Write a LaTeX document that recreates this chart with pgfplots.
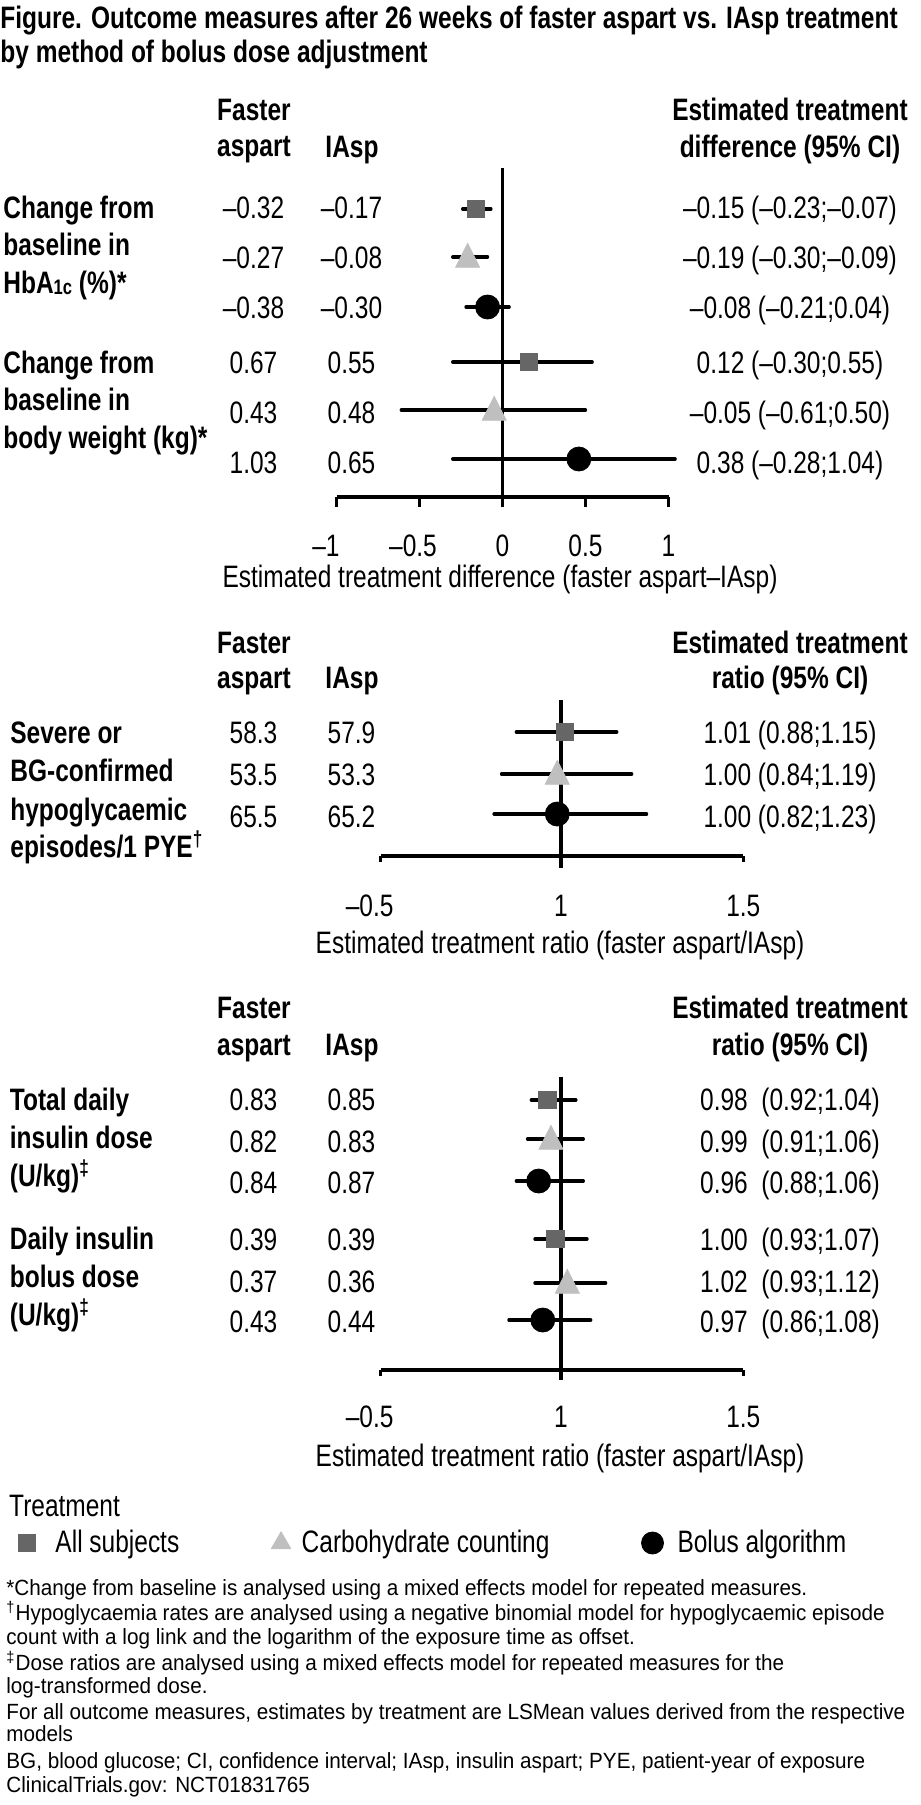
\documentclass[border=0pt]{standalone}
\usepackage{fontspec}
\setmainfont{Liberation Sans}[FakeStretch=0.79]
\usepackage{graphicx}
\usepackage{pgfplots}
\usepackage{pgfplotstable}
\pgfplotsset{compat=1.18}
\definecolor{sqgray}{HTML}{666666}
\definecolor{trigray}{HTML}{BFBFBF}
\newcommand{\fs}{\fontsize{15.5pt}{18.6pt}\selectfont}
\newcommand{\fn}{\fontsize{11pt}{12.3pt}\selectfont}
\newcommand{\fx}[1]{\scalebox{1.19}[1]{#1}}
\newcommand{\tickleft}[2]{\makebox[0pt]{#2\kern#1}}

% ---- data: y = row position, e = estimate, lo/hi = 95% CI ----
\pgfplotstableread{
y e lo hi
-209 -0.16 -0.24 -0.07
-362 0.16 -0.30 0.54
}\topAll
\pgfplotstableread{
y e lo hi
-257 -0.21 -0.30 -0.09
-410 -0.05 -0.61 0.50
}\topCarb
\pgfplotstableread{
y e lo hi
-307 -0.09 -0.22 0.04
-459 0.46 -0.30 1.04
}\topBolus
\pgfplotstableread{
y e lo hi
-732 1.01 0.88 1.15
}\midAll
\pgfplotstableread{
y e lo hi
-774 0.99 0.84 1.19
}\midCarb
\pgfplotstableread{
y e lo hi
-814 0.99 0.82 1.23
}\midBolus
\pgfplotstableread{
y e lo hi
-1100 0.963 0.92 1.04
-1239 0.985 0.93 1.07
}\botAll
\pgfplotstableread{
y e lo hi
-1139 0.973 0.91 1.06
-1283 1.017 0.93 1.12
}\botCarb
\pgfplotstableread{
y e lo hi
-1181 0.94 0.88 1.06
-1320 0.951 0.86 1.08
}\botBolus

\pgfplotsset{
  panel/.style={scale only axis, anchor=south west,
    axis x line=bottom, axis y line=none,
    x axis line style={-, line width=1.6pt, black},
    clip=false, xtick align=outside,
    tick style={line width=1.6pt, black},
    xticklabel style={font=\fs, anchor=base},
    xlabel style={font=\fs, at={(axis description cs:0.5,0)}, anchor=base},
    minor tick num=0},
  ci/.style={forget plot, draw=none, mark=none,
    error bars/.cd, x dir=both, x explicit, error mark=none,
    error bar style={draw=black, solid, line width=1.65pt, line cap=round}},
  sq/.style={only marks, mark=square*, mark size=4.4pt, color=sqgray,
    legend image code/.code={\draw[##1] plot coordinates {(0pt,0pt)};},
    legend image post style={mark size=4.3pt}},
  tri/.style={only marks, mark=triangle*, mark size=6.93pt, color=trigray,
    mark options={yscale=1.15, yshift=-1pt},
    legend image code/.code={\draw[##1] plot coordinates {(0pt,0pt)};},
    legend image post style={mark size=5.6pt, mark options={yscale=1}}},
  dot/.style={only marks, mark=*, mark size=6pt, color=black,
    legend image code/.code={\draw[##1] plot coordinates {(0pt,0pt)};},
    legend image post style={mark size=5.5pt}},
}
\newcommand{\ciplot}[1]{\addplot[ci] table[x=e, y=y,
   x error plus expr=\thisrow{hi}-\thisrow{e},
   x error minus expr=\thisrow{e}-\thisrow{lo}] {#1};}

\begin{document}
\begin{tikzpicture}[
  bl/.style={font=\fs\bfseries, anchor=base west, inner sep=0pt},
  bc/.style={font=\fs\bfseries, anchor=base, inner sep=0pt},
  rc/.style={font=\fs, anchor=base, inner sep=0pt},
  rl/.style={font=\fs, anchor=base west, inner sep=0pt},
  fl/.style={font=\fn, anchor=base west, inner sep=0pt}]

% ---------------- panel 1 ----------------
\begin{axis}[panel, at={(168.25pt,-248.5pt)}, width=166pt, height=164.5pt,
  xmin=-1, xmax=1, ymin=-497, ymax=-168,
  xtick={-1,-0.5,0,0.5,1},
  xticklabels={\tickleft{10.5pt}{–1},\tickleft{6.5pt}{–0.5},0,0.5,1},
  major tick length=5pt,
  xticklabel style={yshift=-24.85pt},
  xlabel={Estimated treatment difference (faster aspart–IAsp)},
  xlabel style={yshift=-45pt, xshift=-1.25pt}]
\draw[line width=1.6pt] (axis cs:0,-168) -- (axis cs:0,-507);
\ciplot{\topAll}
\ciplot{\topCarb}
\ciplot{\topBolus}
\addplot[sq] table[x=e, y=y] {\topAll};
\addplot[tri] table[x=e, y=y] {\topCarb};
\addplot[dot] table[x=e, y=y] {\topBolus};
\end{axis}

% ---------------- panel 2 ----------------
\begin{axis}[panel, at={(190.35pt,-428pt)}, width=181.3pt, height=78pt,
  xmin=0.51532, xmax=1.49005, ymin=-856, ymax=-700,
  xtick={0.51532,1,1.49005}, xticklabels={\tickleft{11pt}{–0.5},1,1.5},
  major tick length=3pt,
  xticklabel style={yshift=-27pt},
  xlabel={Estimated treatment ratio (faster aspart/IAsp)},
  xlabel style={yshift=-48.5pt, xshift=-1pt}]
\draw[line width=1.6pt] (axis cs:1,-700) -- (axis cs:1,-868);
\ciplot{\midAll}
\ciplot{\midCarb}
\ciplot{\midBolus}
\addplot[sq] table[x=e, y=y] {\midAll};
\addplot[tri] table[x=e, y=y] {\midCarb};
\addplot[dot] table[x=e, y=y] {\midBolus};
\end{axis}

% ---------------- panel 3 ----------------
\begin{axis}[panel, at={(190.35pt,-685pt)}, width=181.3pt, height=146.5pt,
  xmin=0.51532, xmax=1.49005, ymin=-1370, ymax=-1077,
  xtick={0.51532,1,1.49005}, xticklabels={\tickleft{11pt}{–0.5},1,1.5},
  major tick length=3pt,
  xticklabel style={yshift=-25.85pt},
  xlabel={Estimated treatment ratio (faster aspart/IAsp)},
  xlabel style={yshift=-48.3pt, xshift=-1pt},
  legend columns=3,
  legend style={draw=none, fill=none, inner sep=0pt, outer sep=0pt,
    font=\fs, nodes={inner sep=0pt},
    at={(axis description cs:-0.99945,-0.5904)}, anchor=west,
    /tikz/every odd column/.append style={column sep=5.5pt},
    /tikz/every even column/.append style={column sep=46pt}}]
\draw[line width=1.6pt] (axis cs:1,-1077) -- (axis cs:1,-1380);
\ciplot{\botAll}
\ciplot{\botCarb}
\ciplot{\botBolus}
\addplot[sq] table[x=e, y=y] {\botAll};
\addlegendentry{\hspace{4.5pt}All subjects\hspace{-1pt}}
\addplot[tri] table[x=e, y=y] {\botCarb};
\addlegendentry{Carbohydrate counting\hspace{5pt}}
\addplot[dot] table[x=e, y=y] {\botBolus};
\addlegendentry{\hspace{1.5pt}Bolus algorithm}
\end{axis}

\begin{scope}[x=0.5pt, y=0.5pt]
% ---------------- title ----------------
\node[bl] at (0,-28.3) {Figure. Outcome measures after 26 weeks of faster aspart vs. IAsp treatment};
\node[bl] at (0,-62.7) {by method of bolus dose adjustment};

% ---------------- panel 1 texts ----------------
\node[bc] at (254,-120) {Faster};
\node[bc] at (254,-156.7) {aspart};
\node[bc] at (352,-157) {IAsp};
\node[bc] at (790,-120) {Estimated treatment};
\node[bc] at (790,-157) {difference (95\% CI)};

\node[bl] at (3,-218.3) {Change from};
\node[bl] at (3,-255.8) {baseline in};
\node[bl] at (3,-293.3) {HbA\raisebox{-0.5pt}{\fontsize{10.5pt}{10pt}\selectfont 1c} (\%)*};
\node[bl] at (3,-373.3) {Change from};
\node[bl] at (3,-410.8) {baseline in};
\node[bl] at (3,-448.3) {body weight (kg)*};

\foreach \y/\a/\b/\c in {218.3/–0.32/–0.17/–0.15 (–0.23;–0.07),
                         268.3/–0.27/–0.08/–0.19 (–0.30;–0.09),
                         318.3/–0.38/–0.30/–0.08 (–0.21;0.04),
                         373.3/0.67/0.55/0.12 (–0.30;0.55),
                         423.3/0.43/0.48/–0.05 (–0.61;0.50),
                         473.3/1.03/0.65/0.38 (–0.28;1.04)}{
  \node[rc] at (253.5,-\y) {\a};
  \node[rc] at (351.5,-\y) {\b};
  \node[rc] at (790,-\y) {\c};
}

% ---------------- panel 2 texts ----------------
\node[bc] at (254,-653) {Faster};
\node[bc] at (254,-688) {aspart};
\node[bc] at (352,-688) {IAsp};
\node[bc] at (790,-653) {Estimated treatment};
\node[bc] at (790,-688) {ratio (95\% CI)};

\node[bl] at (10,-743.3) {Severe or};
\node[bl] at (10,-781.7) {BG-confirmed};
\node[bl] at (10,-820) {hypoglycaemic};
\node[bl] at (10,-857) {episodes/1 PYE\textsuperscript{†}};

\foreach \y/\a/\b/\c in {743/58.3/57.9/1.01 (0.88;1.15),
                         785/53.5/53.3/1.00 (0.84;1.19),
                         827/65.5/65.2/1.00 (0.82;1.23)}{
  \node[rc] at (253.5,-\y) {\a};
  \node[rc] at (351.5,-\y) {\b};
  \node[rc] at (790,-\y) {\c};
}

% ---------------- panel 3 texts ----------------
\node[bc] at (254,-1018) {Faster};
\node[bc] at (254,-1055) {aspart};
\node[bc] at (352,-1055) {IAsp};
\node[bc] at (790,-1018) {Estimated treatment};
\node[bc] at (790,-1055) {ratio (95\% CI)};

\node[bl] at (9.5,-1110) {Total daily};
\node[bl] at (9.5,-1148) {insulin dose};
\node[bl] at (9.5,-1186) {(U/kg)\textsuperscript{‡}};
\node[bl] at (9.5,-1249) {Daily insulin};
\node[bl] at (9.5,-1287) {bolus dose};
\node[bl] at (9.5,-1325) {(U/kg)\textsuperscript{‡}};

\foreach \y/\a/\b/\c in {1110/0.83/0.85/0.98\ \ (0.92;1.04),
                         1152/0.82/0.83/0.99\ \ (0.91;1.06),
                         1193/0.84/0.87/0.96\ \ (0.88;1.06),
                         1250/0.39/0.39/1.00\ \ (0.93;1.07),
                         1292/0.37/0.36/1.02\ \ (0.93;1.12),
                         1332/0.43/0.44/0.97\ \ (0.86;1.08)}{
  \node[rc] at (253.5,-\y) {\a};
  \node[rc] at (351.5,-\y) {\b};
  \node[rc] at (790,-\y) {\c};
}

% ---------------- legend title ----------------
\node[rl] at (8.8,-1516.7) {Treatment};

% ---------------- footnotes ----------------
\node[fl] at (6,-1595) {\fx{*Change from baseline is analysed using a mixed effects model for repeated measures.}};
\node[fl] at (6,-1620) {\fx{\textsuperscript{†}Hypoglycaemia rates are analysed using a negative binomial model for hypoglycaemic episode}};
\node[fl] at (6,-1644) {\fx{count with a log link and the logarithm of the exposure time as offset.}};
\node[fl] at (6,-1670) {\fx{\textsuperscript{‡}Dose ratios are analysed using a mixed effects model for repeated measures for the}};
\node[fl] at (6,-1693.3) {\fx{log-transformed dose.}};
\node[fl] at (6,-1719) {\fx{For all outcome measures, estimates by treatment are LSMean values derived from the respective}};
\node[fl] at (6,-1741.7) {\fx{models}};
\node[fl] at (6,-1768.3) {\fx{BG, blood glucose; CI, confidence interval; IAsp, insulin aspart; PYE, patient-year of exposure}};
\node[fl] at (6,-1792.3) {\fx{ClinicalTrials.gov: NCT01831765}};
\end{scope}

\pgfresetboundingbox
\useasboundingbox (0pt,0pt) rectangle (460.5pt,-902.5pt);
\end{tikzpicture}
\end{document}
